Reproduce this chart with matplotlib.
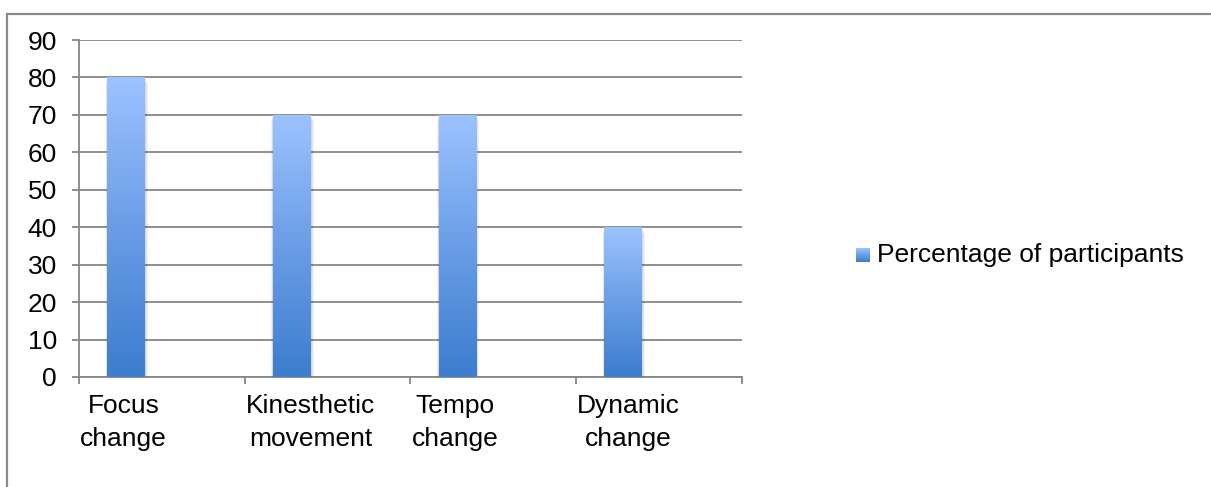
import matplotlib.pyplot as plt
import numpy as np
from matplotlib.patches import Rectangle
from matplotlib.colors import LinearSegmentedColormap
from matplotlib.lines import Line2D

plt.rcParams['font.family'] = ['Liberation Sans', 'DejaVu Sans']

categories = ['Focus\nchange', 'Kinesthetic\nmovement', 'Tempo\nchange', 'Dynamic\nchange']
values = [80, 70, 70, 40]
series_name = 'Percentage of participants'
y_ticks = list(range(0, 100, 10))

grid_col = '#878787'
bar_cmap = LinearSegmentedColormap.from_list('bar', ['#3C7DCE', '#6A9DE6', '#9CC3FF'])
grad = np.linspace(0, 1, 256).reshape(-1, 1)
fs = 19

fig = plt.figure(figsize=(12.11, 4.87), dpi=100)
ax = fig.add_axes([79 / 1211, 1 - 377 / 487, (742 - 79) / 1211, (377 - 40) / 487])

# outer frame of the chart area (runs off the right and bottom edges)
fig.add_artist(Line2D([6.5 / 1211, 1.01], [1 - 13.5 / 487] * 2, transform=fig.transFigure,
                      color='#8a8a8a', lw=1.6))
fig.add_artist(Line2D([6.5 / 1211] * 2, [1 - 13.5 / 487, -0.01], transform=fig.transFigure,
                      color='#8a8a8a', lw=1.6))

ax.set_xlim(0, len(categories))
ax.set_ylim(0, 90)
ax.set_yticks(y_ticks)
ax.set_xticks(range(len(categories) + 1))
ax.set_xticklabels([])
for s in ['top', 'right']:
    ax.spines[s].set_visible(False)
for s in ['left', 'bottom']:
    ax.spines[s].set_color(grid_col)
    ax.spines[s].set_linewidth(1.3)
ax.yaxis.grid(True, color=grid_col, lw=1.3)
ax.set_axisbelow(True)
ax.tick_params(axis='y', length=5, width=1.3, color=grid_col, labelsize=fs, pad=11)
ax.tick_params(axis='x', length=5, width=1.3, color=grid_col)

bar_off, bar_w = 0.169, 0.229
for i, v in enumerate(values):
    x0 = i + bar_off
    # soft drop shadow
    for k, a in enumerate([0.05, 0.05, 0.06]):
        d = 0.006 * (3 - k)
        ax.add_patch(Rectangle((x0 - d * 0.5, -1.2 * (3 - k) * 0.4), bar_w + d * 1.5, v,
                               color='black', alpha=a, lw=0, zorder=2))
    rect = Rectangle((x0, 0), bar_w, v, facecolor='none', edgecolor='none', zorder=3)
    ax.add_patch(rect)
    im = ax.imshow(grad, cmap=bar_cmap, origin='lower', aspect='auto',
                   extent=[x0, x0 + bar_w, 0, v], zorder=3)
    im.set_clip_path(rect)

for i, lab in enumerate(categories):
    ax.annotate(lab, xy=(i, 0), xycoords=('data', 'axes fraction'),
                xytext=(1, -17), textcoords='offset pixels',
                ha='left', va='top', multialignment='center', fontsize=fs, linespacing=1.45)

ax.set_xlim(0, len(categories))
ax.set_ylim(0, 90)

# legend entry with a gradient swatch
sw = fig.add_axes([856 / 1211, 1 - 262 / 487, 14 / 1211, 14 / 487])
sw.imshow(grad, cmap=bar_cmap, origin='lower', aspect='auto', extent=[0, 1, 0, 1])
sw.axis('off')
fig.text(877 / 1211, 1 - 255 / 487, series_name, ha='left', va='center', fontsize=fs)

fig.savefig('out.png', dpi=100)
